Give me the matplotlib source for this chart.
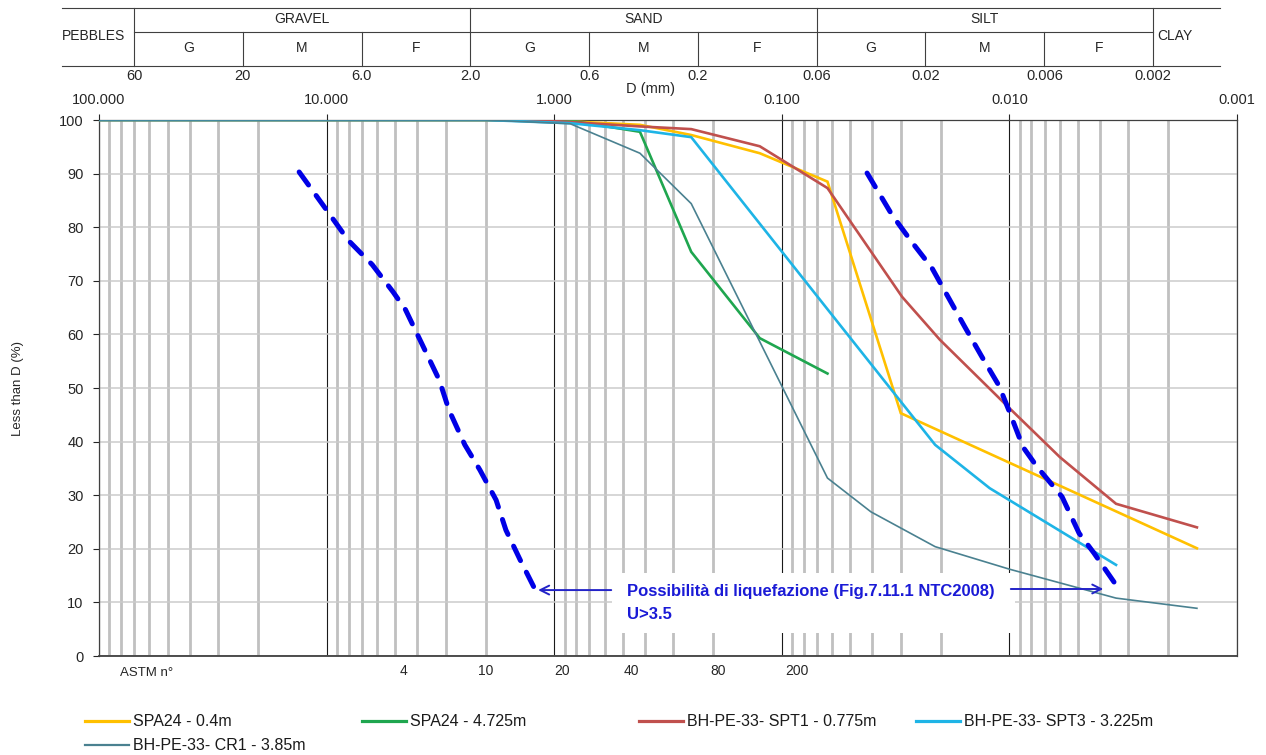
import matplotlib
matplotlib.use("Agg")
import matplotlib.pyplot as plt
from matplotlib import font_manager
from matplotlib.lines import Line2D
from matplotlib.patches import Rectangle

W, H = 1266, 755
plt.rcParams['font.family'] = ['Liberation Sans', 'DejaVu Sans']

# grain size curves (D in mm, % passing)
d_spa24_a = [100, 2.0, 1.0, 0.42, 0.25, 0.125, 0.063, 0.030, 0.0015]
p_spa24_a = [100, 100, 99.9, 99.1, 97.2, 93.8, 88.5, 45.3, 20.1]

d_spa24_b = [100, 2.0, 0.8, 0.42, 0.25, 0.125, 0.063]
p_spa24_b = [100, 100, 99.7, 97.8, 75.4, 59.3, 52.7]

d_spt1 = [100, 2.0, 1.0, 0.42, 0.25, 0.125, 0.063, 0.0296, 0.0202, 0.0102, 0.006, 0.0034, 0.0015]
p_spt1 = [100, 100, 99.8, 98.8, 98.3, 95.1, 87.3, 67.0, 59.0, 46.6, 37.1, 28.4, 24.0]

d_spt3 = [100, 2.0, 0.85, 0.42, 0.25, 0.063, 0.0212, 0.0122, 0.0034]
p_spt3 = [100, 100, 99.4, 98.1, 96.8, 64.7, 39.4, 31.3, 17.0]

d_cr1 = [100, 2.0, 0.85, 0.42, 0.25, 0.063, 0.0406, 0.0212, 0.01, 0.0034, 0.0015]
p_cr1 = [100, 100, 99.3, 93.8, 84.4, 33.2, 26.9, 20.4, 16.2, 10.8, 8.9]

labels = ['SPA24 - 0.4m', 'SPA24 - 4.725m', 'BH-PE-33- SPT1 - 0.775m',
          'BH-PE-33- SPT3 - 3.225m', 'BH-PE-33- CR1 - 3.85m']
colors = ['#FFC000', '#1FA64F', '#C0504D', '#1EB4E6', '#4A8190']
widths = [1.9, 1.9, 1.9, 1.9, 1.2]
series = [(d_spa24_a, p_spa24_a), (d_spa24_b, p_spa24_b), (d_spt1, p_spt1),
          (d_spt3, p_spt3), (d_cr1, p_cr1)]

# liquefaction band limits (dashed)
d_lim_left = [13.2, 10.0, 8.05, 6.3, 5.1, 4.5, 3.2, 2.9, 2.47, 2.12, 1.8, 1.63, 1.41, 1.21]
p_lim_left = [90.3, 83.2, 77.6, 73.0, 67.9, 64.6, 51.5, 45.9, 39.4, 34.7, 29.1, 23.5, 17.9, 12.3]
d_lim_right = [0.0422, 0.0328, 0.0268, 0.0219, 0.0186, 0.0157, 0.0132, 0.0111, 0.00994,
               0.00872, 0.00756, 0.00587, 0.00494, 0.00425, 0.00333]
p_lim_right = [90.1, 82.3, 77.2, 72.4, 67.0, 61.4, 55.8, 50.4, 45.3,
               39.0, 35.3, 29.7, 22.9, 19.2, 12.7]

# header classes
hdr_bounds = [60, 20, 6.0, 2.0, 0.6, 0.2, 0.06, 0.02, 0.006, 0.002]
hdr_bound_labels = ['60', '20', '6.0', '2.0', '0.6', '0.2', '0.06', '0.02', '0.006', '0.002']
hdr_groups = ['GRAVEL', 'SAND', 'SILT']
hdr_subs = ['G', 'M', 'F']

decade_ticks = [100, 10, 1, 0.1, 0.01, 0.001]
decade_labels = ['100.000', '10.000', '1.000', '0.100', '0.010', '0.001']

astm_numbers = ['4', '10', '20', '40', '80', '200']
astm_pos = [4.6, 2.0, 0.92, 0.46, 0.19, 0.086]

fig = plt.figure(figsize=(W / 100, H / 100), dpi=100)

# ---- main chart
ax = fig.add_axes([99 / W, (H - 656) / H, 1138 / W, 536 / H])
ax.set_xscale('log')
ax.set_xlim(100, 0.001)
ax.set_ylim(0, 100)
ax.set_axisbelow(True)
ax.grid(which='minor', axis='x', color='#c0c0c0', lw=2.0)
ax.grid(which='major', axis='x', color='#1a1a1a', lw=0.8)
ax.grid(which='major', axis='y', color='#cbcbcb', lw=1.1)
ax.set_yticks(range(0, 101, 10))
ax.set_xticks(decade_ticks)
ax.set_xticklabels(decade_labels)
ax.xaxis.tick_top()
ax.tick_params(axis='x', which='major', length=4, pad=5, labelsize=10.5,
               colors='#262626', width=0.8)
ax.tick_params(axis='x', which='minor', length=0)
ax.tick_params(axis='y', length=4, pad=7, labelsize=10.5, colors='#262626', width=0.8)
for s in ax.spines.values():
    s.set_color('#404040')
    s.set_linewidth(0.9)
ax.spines['bottom'].set_linewidth(1.3)

for (d, p), lab, c, lw in zip(series, labels, colors, widths):
    ax.plot(d, p, color=c, lw=lw, zorder=3, solid_joinstyle='miter')

ax.plot(d_lim_left, p_lim_left, color='#0000E6', lw=3.6, ls=(0, (3.2, 2.6)),
        dash_capstyle='round', zorder=4)
ax.plot(d_lim_right, p_lim_right, color='#0000E6', lw=3.6, ls=(0, (3.2, 2.6)),
        dash_capstyle='round', zorder=4)

# white label box and annotation
ax.add_patch(Rectangle((0.00945, 4.3), 0.557 - 0.00945, 11.2, facecolor='white',
                       edgecolor='none', zorder=2))
names = {f.name for f in font_manager.fontManager.ttflist}
if 'Liberation Sans Narrow' in names:
    ann_font, ann_size = 'Liberation Sans Narrow', 14.5
else:
    ann_font, ann_size = 'Liberation Sans', 12
ann_col = '#1A1AD6'
ax.text(0.479, 12.1, 'Possibilità di liquefazione (Fig.7.11.1 NTC2008)', color=ann_col,
        fontsize=ann_size, fontweight='bold', family=ann_font, va='center', ha='left', zorder=5)
ax.text(0.479, 7.7, 'U>3.5', color=ann_col, fontsize=ann_size, fontweight='bold',
        family=ann_font, va='center', ha='left', zorder=5)
ax.annotate('', xy=(1.21, 12.3), xytext=(0.546, 12.3),
            arrowprops=dict(arrowstyle='->', color='#2323C8', lw=1.4, mutation_scale=16), zorder=5)
ax.annotate('', xy=(0.00376, 12.5), xytext=(0.01014, 12.5),
            arrowprops=dict(arrowstyle='->', color='#2323C8', lw=1.4, mutation_scale=16), zorder=5)

# ASTM sieve numbers under the axis
tr = ax.get_xaxis_transform()
for pos, num in zip(astm_pos, astm_numbers):
    ax.text(pos, -0.028, num, transform=tr, ha='center', va='center', fontsize=10,
            color='#262626')
fig.text(120 / W, 1 - 673 / H, 'ASTM n°', ha='left', va='center', fontsize=9.5, color='#262626')

fig.text(18 / W, 1 - 388 / H, 'Less than D (%)', rotation=90, ha='center', va='center',
         fontsize=9.5, color='#262626')
fig.text(650 / W, 1 - 89 / H, 'D (mm)', ha='center', va='center', fontsize=10.5, color='#262626')

# ---- header table (same log scale, shifted a bit to the left)
hax = fig.add_axes([(99 - 15.5) / W, 1 - 90 / H, 1138 / W, 90 / H])
hax.set_xscale('log')
hax.set_xlim(100, 0.001)
hax.set_ylim(90, 0)
hax.axis('off')
lc = '#404040'
x_left, x_right = 124.3, 0.001015
hax.plot([x_left, x_right], [8, 8], color=lc, lw=0.8, clip_on=False)
hax.plot([x_left, x_right], [66, 66], color=lc, lw=0.8, clip_on=False)
hax.plot([hdr_bounds[0], hdr_bounds[-1]], [32, 32], color=lc, lw=0.8)
for i, b in enumerate(hdr_bounds):
    top = 8 if i % 3 == 0 else 32
    hax.plot([b, b], [top, 66], color=lc, lw=0.8)
    hax.text(b, 76, hdr_bound_labels[i], ha='center', va='center', fontsize=10.5, color='#262626')
for g, name in enumerate(hdr_groups):
    lo, hi = hdr_bounds[3 * g], hdr_bounds[3 * g + 3]
    hax.text((lo * hi) ** 0.5, 19, name, ha='center', va='center', fontsize=10, color='#262626')
    for k, sub in enumerate(hdr_subs):
        a, b = hdr_bounds[3 * g + k], hdr_bounds[3 * g + k + 1]
        hax.text((a * b) ** 0.5, 48, sub, ha='center', va='center', fontsize=10, color='#262626')
hax.text(90.8, 36, 'PEBBLES', ha='center', va='center', fontsize=10, color='#262626')
hax.text(0.0016, 36, 'CLAY', ha='center', va='center', fontsize=10, color='#262626')

# ---- legend below the chart
for i, (lab, c, lw) in enumerate(zip(labels, colors, widths)):
    row, col = divmod(i, 4)
    x0 = 85 + 277 * col
    y0 = 1 - (721 + 24 * row) / H
    fig.add_artist(Line2D([x0 / W, (x0 + 44) / W], [y0, y0], color=c, lw=lw + 0.4))
    fig.text((x0 + 48) / W, y0, lab, ha='left', va='center', fontsize=11.5, color='#1a1a1a')

fig.savefig('out.png', dpi=100)
